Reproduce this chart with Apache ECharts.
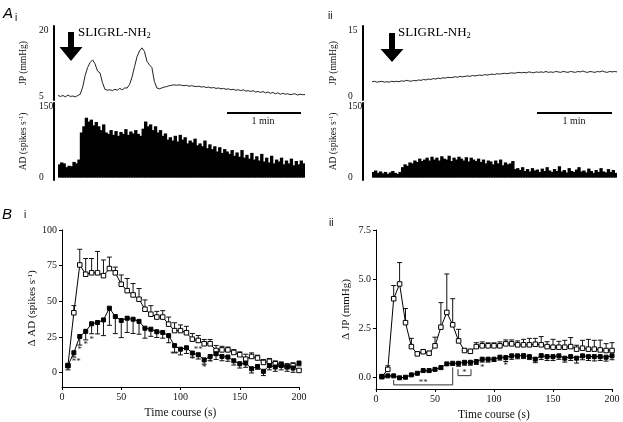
<!DOCTYPE html>
<html><head><meta charset="utf-8">
<script src="https://cdn.jsdelivr.net/npm/echarts@6/dist/echarts.min.js"></script>
<style>html,body{margin:0;padding:0;background:#fff}#c{width:623px;height:422px}</style>
</head><body><div id="c"></div>
<script>
// ---------- Panel A: raw recordings, 0–200 s, sampled / binned every 2 s ----------
const traceStep = 2;
const JP_i = [5.3,5.1,5.3,5.0,5.4,5.1,5.2,5.0,5.3,
  5.6,7.2,9.8,11.6,12.7,13.3,12.4,10.8,10.4,8.2,
  6.7,6.5,6.6,6.4,6.7,6.5,6.9,6.6,7.0,7.0,
  7.8,9.5,11.8,14.0,15.3,16.0,15.2,13.0,12.2,11.6,
  8.5,7.0,6.8,7.0,7.2,7.3,7.5,7.6,7.7,7.6,
  7.7,7.6,
  7.5,7.6,7.4,7.5,7.4,7.3,7.4,7.2,7.3,7.1,
  7.2,7.0,7.1,6.9,7.0,6.8,6.9,6.7,6.8,6.6,
  6.7,6.5,6.6,6.4,6.6,6.3,6.4,6.2,6.4,6.1,
  6.2,6.0,6.2,5.9,6.1,5.8,6.0,5.7,5.9,5.6,
  5.8,5.6,5.7,5.5,5.6,5.7,5.4,5.6,5.5,5.5];
const AD_i = [28,32,30,22,25,24,33,30,38,95,
  108,126,118,122,110,117,108,100,112,95,
  92,100,90,98,88,96,92,102,90,97,
  93,100,92,88,103,118,108,112,100,108,
  95,100,88,93,80,85,78,88,76,90,
  80,85,72,78,74,82,68,72,66,78,
  62,70,60,66,55,64,52,60,55,50,
  58,46,53,44,58,42,48,40,52,38,
  45,36,50,34,42,32,46,30,38,34,
  42,28,36,30,40,26,35,28,36,30];
const JP_ii = [3.4,3.5,3.3,3.4,3.5,3.3,3.4,3.3,3.5,3.4,3.5,3.4,3.6,3.5,3.7,3.6,3.5,3.7,3.6,3.8,
  3.7,3.9,3.8,4.0,3.9,4.1,4.0,4.2,4.1,4.3,4.2,4.4,4.3,4.4,4.5,4.4,4.6,4.5,4.6,4.7,
  4.6,4.8,4.7,4.8,4.9,4.8,5.0,4.9,5.0,5.1,5.0,5.2,5.1,5.2,5.3,5.2,5.3,5.4,5.3,5.4,
  5.5,5.4,5.5,5.4,5.6,5.5,5.4,5.6,5.5,5.6,5.5,5.7,5.5,5.6,5.5,5.7,5.6,5.5,5.7,5.6,
  5.5,5.7,5.6,5.5,5.7,5.6,5.8,5.6,5.5,5.7,5.6,5.5,5.7,5.6,5.8,5.6,5.5,5.7,5.6,5.7,5.6];
const AD_ii = [12,15,10,13,9,12,8,11,14,10,8,12,
  22,28,25,32,30,36,33,40,35,38,42,36,
  44,38,42,36,45,40,38,46,35,42,38,44,
  40,36,43,34,42,38,35,40,33,38,30,36,
  34,28,36,30,38,26,32,28,30,35,18,20,
  16,22,14,18,13,20,15,17,12,19,14,22,
  15,12,18,14,24,13,16,11,20,14,12,17,
  22,13,15,11,19,14,10,16,12,20,13,11,
  18,12,16,10];

// ---------- Panel B: mean ± s.e.m., every 5 s ----------
const timeB = [5,10,15,20,25,30,35,40,45,50,55,60,65,70,75,80,85,90,95,100,
  105,110,115,120,125,130,135,140,145,150,155,160,165,170,175,180,185,190,195,200];
const AD_open = [5,42,75.5,69,70,70,68,73,70,62,57.5,54.5,51.5,44.5,41,39,39,34,29.5,29.5,
  28,23.5,22.6,20.3,20.3,15.6,16,16,14.2,12.6,9.5,11.4,10.3,7.2,8,6.3,5.6,4.4,5,1.6];
const AD_open_err = [0,5,11,11,10,15,11,8,4,6.5,8.5,8,7.5,6.5,6,4,4.5,5,5.5,4,
  4.5,4,3.5,3,3,3.5,2.5,2,2,2,3.5,2.5,2,2,2,2,2,2,2,1];
const AD_filled = [5,14,25.4,29,34.3,35.2,37,45.2,39.4,36.6,38.2,37.5,36,31.2,30.5,28.7,28.2,26,19,16.5,
  17.5,13.8,12.6,9,11.4,13.3,11.4,11,8.4,6.3,6.8,2.8,4.4,1,5,4,5,4,3.3,6.8];
const AD_filled_err = [3,3,6,6,7,8,11,12,12,12,10,10,9,7,5,4,4,5,5,4,
  4,3,3,3,3,4,3,3,3,3,3,3,2,3,3,3,3,3,3,2];
const JP_open = [0.03,0.4,4.0,4.75,2.78,1.56,1.19,1.3,1.22,1.6,2.55,3.3,2.67,1.85,1.36,1.32,1.56,1.6,1.6,1.6,
  1.6,1.7,1.7,1.65,1.65,1.65,1.68,1.65,1.56,1.53,1.53,1.53,1.56,1.43,1.48,1.43,1.43,1.39,1.36,1.36];
const JP_open_err = [0,0.18,0.67,1.09,0.72,0.42,0.1,0.1,0.1,0.44,1.25,1.96,1.33,0.59,0.1,0.1,0.2,0.2,0.15,0.15,
  0.2,0.2,0.2,0.2,0.28,0.33,0.3,0.42,0.25,0.4,0.3,0.35,0.46,0.2,0.4,0.5,0.45,0.5,0.35,0.4];
const JP_filled = [0.03,0.07,0.07,-0.03,0.0,0.12,0.2,0.34,0.34,0.4,0.49,0.68,0.71,0.71,0.76,0.76,0.8,0.92,0.92,0.92,
  1.02,1.0,1.09,1.09,1.1,1.05,0.92,1.1,1.05,1.05,1.09,0.97,1.05,0.97,1.09,1.05,1.05,1.05,1.02,1.09];
const JP_filled_err = [0.03,0.03,0.03,0.03,0.03,0.04,0.05,0.05,0.06,0.06,0.07,0.08,0.1,0.15,0.15,0.15,0.15,0.15,0.15,0.12,
  0.15,0.2,0.18,0.15,0.15,0.15,0.18,0.2,0.2,0.2,0.18,0.2,0.2,0.25,0.2,0.2,0.22,0.2,0.2,0.2];
const starsBi = [[12,8,'**'],[15,16,'*'],[20,20,'*'],[25,23.5,'*'],[95,12.6,'**'],[110,9.5,'*'],[115,16,'**'],[120,3.7,'*'],[125,6.8,'*']];
const starsBii = [[40,-0.27,'**'],[75,0.24,'*'],[90,0.49,'*'],[110,0.59,'*']];
const bracketsBii = [
  [[15,-0.14],[15,-0.39],[65,-0.39],[65,0.5]],
  [[69.5,0.41],[69.5,0.08],[80.5,0.08],[80.5,0.41]]
];
const ticksAiJP = [5,20], ticksAAD = [0,150], ticksAiiJP = [0,15];
const ticksBi = [0,25,50,75,100], ticksBii = [0,2.5,5,7.5];

const SERIF = 'Liberation Serif';
const chart = echarts.init(document.getElementById('c'), null, {renderer:'canvas'});

function aX(gi){ return {gridIndex:gi, type:'value', min:0, max:200, show:false}; }
function aCat(gi, arr){ return {gridIndex:gi, type:'category', data: arr.map((_, i) => i * traceStep), show:false, boundaryGap:true}; }
function aY(gi, min, max, labels, name, offset, gap){
  return {gridIndex:gi, type:'value', min, max, offset, splitLine:{show:false},
    axisLine:{show:true, onZero:false, lineStyle:{color:'#000', width:2}},
    axisTick:{show:false},
    axisLabel:{customValues:labels, margin:15, align:'left', fontFamily:SERIF, fontSize:9.5, color:'#111'},
    name, nameLocation:'middle', nameGap:gap, nameRotate:90,
    nameTextStyle:{fontFamily:SERIF, fontSize:9.5, color:'#111',
      rich:{sup:{fontFamily:SERIF, fontSize:6.5, color:'#111', verticalAlign:'top'}}}};
}
function bX(gi){
  return {gridIndex:gi, type:'value', min:0, max:200, interval:50, splitLine:{show:false},
    axisLine:{onZero:false, lineStyle:{color:'#000', width:1}},
    axisTick:{length:3, lineStyle:{color:'#000'}},
    axisLabel:{fontFamily:SERIF, fontSize:10, color:'#111', margin:5},
    name:'Time course (s)', nameLocation:'middle', nameGap:20,
    nameTextStyle:{fontFamily:SERIF, fontSize:11.5, color:'#111'}};
}
function bY(gi, min, max, ticks, name, fmt, gap){
  return {gridIndex:gi, type:'value', min, max, splitLine:{show:false},
    axisLine:{show:true, onZero:false, lineStyle:{color:'#000', width:1}},
    axisTick:{show:true, length:3, customValues:ticks, lineStyle:{color:'#000'}},
    axisLabel:{customValues:ticks, fontFamily:SERIF, fontSize:10, color:'#111', margin:5, formatter:fmt},
    name, nameLocation:'middle', nameGap:gap, nameRotate:90,
    nameTextStyle:{fontFamily:SERIF, fontSize:11, color:'#111',
      rich:{sup:{fontFamily:SERIF, fontSize:7, color:'#111', verticalAlign:'top'}}}};
}
function errSeries(vals, errs, dir, xi){
  return {type:'custom', xAxisIndex:xi, yAxisIndex:xi, z:1, silent:true, clip:false,
    data: timeB.map((t, i) => [t, vals[i], errs[i]]),
    renderItem(params, api){
      const x = api.value(0), y = api.value(1), e = api.value(2);
      const p0 = api.coord([x, y]), p1 = api.coord([x, y + dir * e]);
      const st = {stroke:'#111', lineWidth:1};
      return {type:'group', children:[
        {type:'line', shape:{x1:p0[0], y1:p0[1], x2:p1[0], y2:p1[1]}, style:st},
        {type:'line', shape:{x1:p1[0]-2.5, y1:p1[1], x2:p1[0]+2.5, y2:p1[1]}, style:st}]};
    }};
}
function ptSeries(vals, filled, xi){
  return {type:'line', xAxisIndex:xi, yAxisIndex:xi, z:3, silent:true,
    data: timeB.map((t, i) => [t, vals[i]]),
    symbol:'rect', symbolSize: filled ? 4 : 4.5, showAllSymbol:true,
    itemStyle:{color: filled ? '#000' : '#fff', borderColor:'#000', borderWidth:1},
    lineStyle:{color:'#000', width:1}};
}
function starSeries(list, xi){
  return {type:'custom', xAxisIndex:xi, yAxisIndex:xi, z:4, silent:true, clip:false,
    data: list.map(s => [s[0], s[1]]),
    renderItem(params, api){
      const p = api.coord([api.value(0), api.value(1)]);
      return {type:'text', x:p[0], y:p[1], style:{text:list[params.dataIndex][2], fill:'#222',
        fontFamily:SERIF, fontSize:9, align:'center', verticalAlign:'middle'}};
    }};
}
function traceSeries(arr, xi){
  return {type:'line', xAxisIndex:xi, yAxisIndex:xi, silent:true, symbol:'none',
    data: arr.map((v, i) => [i * traceStep, v]), lineStyle:{color:'#222', width:1}};
}
function barSeries(arr, xi){
  return {type:'bar', xAxisIndex:xi, yAxisIndex:xi, silent:true, data:arr,
    barWidth:'135%', itemStyle:{color:'#000'}};
}

const letter = (t, l, tp, size, italic) => ({type:'text', left:l, top:tp,
  style:{text:t, fill:'#000', fontFamily:'Liberation Sans', fontSize:size, fontStyle: italic ? 'italic' : 'normal'}});
const arrow = (cx, top, headTop, tip) => ({type:'polygon', shape:{points:[
  [cx-3, top],[cx+3, top],[cx+3, headTop],[cx+11.5, headTop],[cx, tip],[cx-11.5, headTop],[cx-3, headTop]]},
  style:{fill:'#000'}});
const drug = (l, tp) => ({type:'text', left:l, top:tp, style:{text:'{a|SLIGRL-NH}{s|2}',
  rich:{a:{fontFamily:SERIF, fontSize:13, lineHeight:15, verticalAlign:'middle', fill:'#000'},
        s:{fontFamily:SERIF, fontSize:8.5, lineHeight:9, verticalAlign:'bottom', fill:'#000'}}}});
const scaleBar = (x1, x2, y) => ({type:'line', shape:{x1, y1:y, x2, y2:y}, style:{stroke:'#000', lineWidth:2}});
const minText = (cx, y) => ({type:'text', x:cx, y:y, style:{text:'1 min', fontFamily:SERIF, fontSize:10, fill:'#111', align:'center', verticalAlign:'middle'}});

const option = {
  animation:false,
  backgroundColor:'#fff',
  grid:[
    {left:58, top:26, width:247, height:74},
    {left:58, top:103, width:247, height:77},
    {left:372, top:26, width:245, height:74},
    {left:372, top:103, width:245, height:77},
    {left:62, top:230, width:237, height:157},
    {left:376, top:230, width:236, height:159}
  ],
  xAxis:[aX(0), aCat(1, AD_i), aX(2), aCat(3, AD_ii), bX(4), bX(5)],
  yAxis:[
    aY(0, 4.3, 20.9, ticksAiJP, 'JP (mmHg)', 4, 26),
    aY(1, -5, 157, ticksAAD, 'AD (spikes s{sup|-1})', 4, 26),
    aY(2, -0.7, 15.9, ticksAiiJP, 'JP (mmHg)', 9, 25),
    aY(3, -5, 157, ticksAAD, 'AD (spikes s{sup|-1})', 9, 25),
    bY(4, -10, 100, ticksBi, 'Δ AD (spikes s{sup|-1})', v => String(v), 22),
    bY(5, -0.6, 7.5, ticksBii, 'Δ JP (mmHg)', v => v.toFixed(1), 24)
  ],
  series:[
    traceSeries(JP_i, 0), barSeries(AD_i, 1), traceSeries(JP_ii, 2), barSeries(AD_ii, 3),
    errSeries(AD_open, AD_open_err, 1, 4), errSeries(AD_filled, AD_filled_err, -1, 4),
    ptSeries(AD_open, false, 4), ptSeries(AD_filled, true, 4), starSeries(starsBi, 4),
    errSeries(JP_open, JP_open_err, 1, 5), errSeries(JP_filled, JP_filled_err, -1, 5),
    ptSeries(JP_open, false, 5), ptSeries(JP_filled, true, 5), starSeries(starsBii, 5),
    ...bracketsBii.map(b => ({type:'line', xAxisIndex:5, yAxisIndex:5, silent:true, symbol:'none', z:2,
      data:b, lineStyle:{color:'#333', width:1}}))
  ],
  graphic:[
    letter('A', 3, 6, 15, true), letter('i', 15, 13, 10, false), letter('ii', 328, 11, 10, false),
    letter('B', 2, 207, 15, true), letter('i', 24, 210, 10, false), letter('ii', 329, 218, 10, false),
    arrow(71, 32, 47, 61), arrow(392, 33, 49, 62),
    drug(78, 26), drug(398, 26),
    scaleBar(227, 301, 113), scaleBar(537, 612, 113),
    minText(263, 121), minText(574, 121)
  ]
};
chart.setOption(option);
</script>
</body></html>
